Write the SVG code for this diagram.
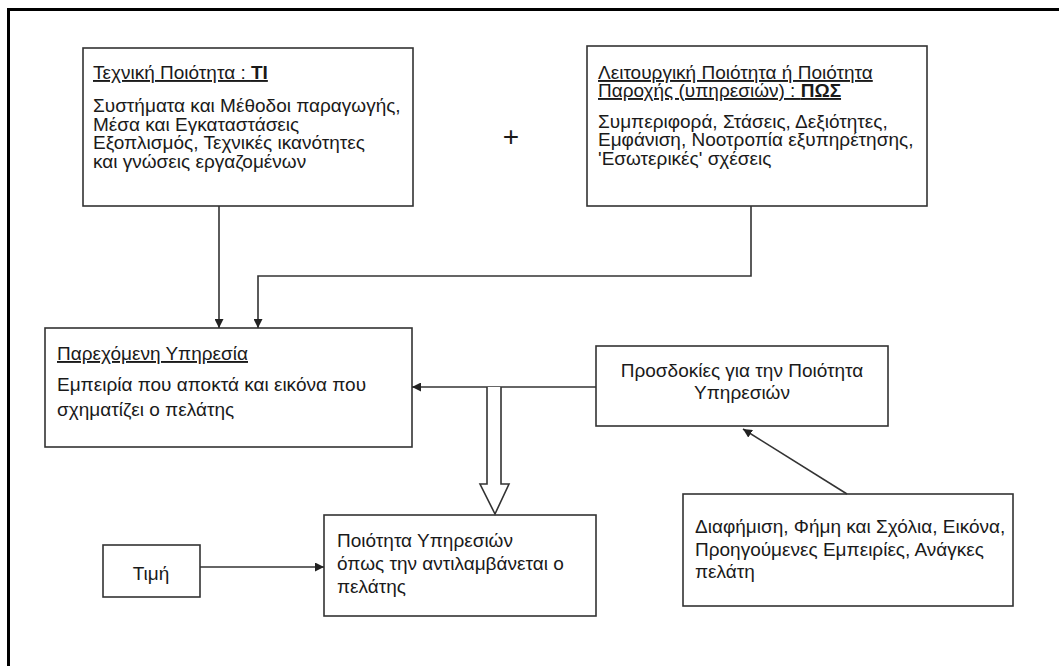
<svg xmlns="http://www.w3.org/2000/svg" width="1059" height="666" viewBox="0 0 1059 666">
  <style>
    .box { fill: #fff; stroke: #333; stroke-width: 1.6; }
    .t { font-family: "Liberation Sans", Arial, sans-serif; font-size: 19px; fill: #1a1a1a; }
    .u { text-decoration: underline; }
    .b { font-weight: bold; }
    .c { text-anchor: middle; }
    .conn { fill: none; stroke: #333; stroke-width: 1.6; }
  </style>
  <defs>
    <marker id="arr" viewBox="0 0 10 10" refX="10" refY="5" markerWidth="9" markerHeight="9" markerUnits="userSpaceOnUse" orient="auto">
      <path d="M0,0 L10,5 L0,10 Z" fill="#222"/>
    </marker>
  </defs>
  <rect width="1059" height="666" fill="#fff"/>

  <!-- page frame (top and left edges only) -->
  <path d="M8.5,666 V9.5 H1059" fill="none" stroke="#000" stroke-width="3"/>

  <g id="technical-quality">
    <rect class="box" x="83" y="48" width="330" height="158"/>
    <text class="t u" x="93" y="79">Τεχνική Ποιότητα : <tspan class="b">ΤΙ</tspan></text>
    <text class="t" x="93" y="112">Συστήματα και Μέθοδοι παραγωγής,</text>
    <text class="t" x="93" y="130.5">Μέσα και Εγκαταστάσεις</text>
    <text class="t" x="93" y="149">Εξοπλισμός, Τεχνικές ικανότητες</text>
    <text class="t" x="93" y="167.5">και γνώσεις εργαζομένων</text>
  </g>

  <g id="plus">
    <text class="t c" x="511" y="146" style="font-size:28px">+</text>
  </g>

  <g id="functional-quality">
    <rect class="box" x="587" y="46" width="340" height="160"/>
    <text class="t u" x="598" y="79">Λειτουργική Ποιότητα ή Ποιότητα</text>
    <text class="t u" x="598" y="97">Παροχής (υπηρεσιών) : <tspan class="b">ΠΩΣ</tspan></text>
    <text class="t" x="598" y="128">Συμπεριφορά, Στάσεις, Δεξιότητες,</text>
    <text class="t" x="598" y="146">Εμφάνιση, Νοοτροπία  εξυπηρέτησης,</text>
    <text class="t" x="598" y="164.5">'Εσωτερικές' σχέσεις</text>
  </g>

  <g id="delivered-service">
    <rect class="box" x="45" y="328" width="367" height="119"/>
    <text class="t u" x="57" y="360">Παρεχόμενη Υπηρεσία</text>
    <text class="t" x="57" y="391">Εμπειρία που αποκτά και εικόνα που</text>
    <text class="t" x="57" y="416">σχηματίζει ο πελάτης</text>
  </g>

  <g id="expectations">
    <rect class="box" x="596" y="346" width="292" height="80"/>
    <text class="t c" x="742" y="377">Προσδοκίες για την Ποιότητα</text>
    <text class="t c" x="742" y="399">Υπηρεσιών</text>
  </g>

  <g id="price">
    <rect class="box" x="103" y="545" width="97" height="52"/>
    <text class="t c" x="151" y="580">Τιμή</text>
  </g>

  <g id="perceived-quality">
    <rect class="box" x="324" y="515" width="272" height="101"/>
    <text class="t" x="337" y="547">Ποιότητα Υπηρεσιών</text>
    <text class="t" x="337" y="570">όπως την αντιλαμβάνεται ο</text>
    <text class="t" x="337" y="593">πελάτης</text>
  </g>

  <g id="influences">
    <rect class="box" x="683" y="494" width="330" height="112"/>
    <text class="t" x="695" y="533">Διαφήμιση, Φήμη και Σχόλια, Εικόνα,</text>
    <text class="t" x="695" y="556">Προηγούμενες Εμπειρίες, Ανάγκες</text>
    <text class="t" x="695" y="578">πελάτη</text>
  </g>

  <g id="connectors">
    <path class="conn" d="M219,206 V328" marker-end="url(#arr)"/>
    <path class="conn" d="M751,206 V276 H258 V328" marker-end="url(#arr)"/>
    <path class="conn" d="M596,387 H412" marker-end="url(#arr)"/>
    <path class="conn" d="M487,387 V484 H480 L495,514 L509,484 H501 V387" style="fill:#fff"/>
    <path class="conn" d="M200,567 H324" marker-end="url(#arr)"/>
    <path class="conn" d="M847,494 L743,429" marker-end="url(#arr)"/>
  </g>
</svg>
